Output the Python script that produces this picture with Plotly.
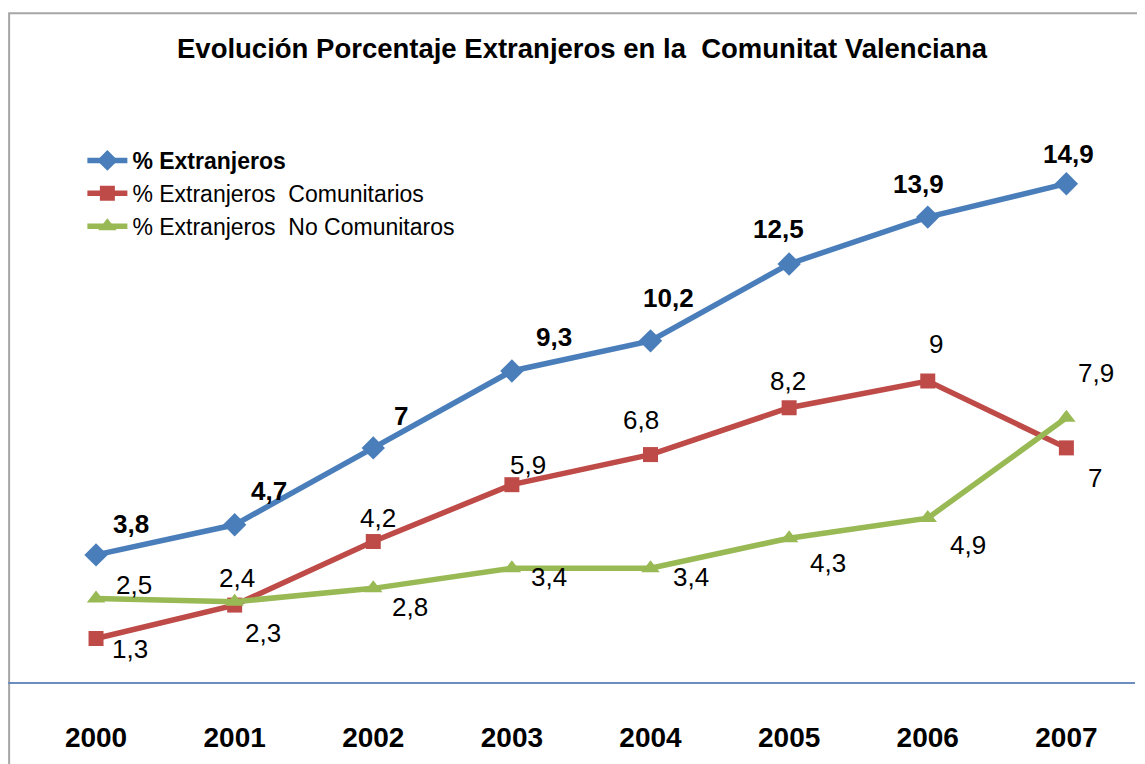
import plotly.graph_objects as go

years = ["2000", "2001", "2002", "2003", "2004", "2005", "2006", "2007"]
total = [3.8, 4.7, 7, 9.3, 10.2, 12.5, 13.9, 14.9]
comunitarios = [1.3, 2.3, 4.2, 5.9, 6.8, 8.2, 9, 7]
no_comunitarios = [2.5, 2.4, 2.8, 3.4, 3.4, 4.3, 4.9, 7.9]

title = "Evolución Porcentaje Extranjeros en la  Comunitat Valenciana"
names = ["<b>% Extranjeros</b>", "% Extranjeros  Comunitarios", "% Extranjeros  No Comunitaros"]

# label offsets in pixels (dx, dy) - styling only
off_total = [(35, 31), (34, 34), (28, 32), (42, 34), (18, 43), (-11, 35), (-9, 33), (2, 30)]
off_com = [(34, -10), (28, -28), (5, 24), (16, 20), (-10, 35), (-1, 27), (8, 37), (29, -30)]
off_nocom = [(38, 13), (2, 24), (37, -19), (37, -9), (40, -9), (39, -25), (40, -27), (30, 45)]


def fmt(v):
    return ("%g" % v).replace(".", ",")


FONT = "Liberation Sans"
BLUE = "#4A7EBB"
RED = "#BE4B48"
GREEN = "#98B954"

idx = list(range(len(years)))

fig = go.Figure()
series = [
    (total, names[0], BLUE, "diamond", 18),
    (comunitarios, names[1], RED, "square", 15),
    (no_comunitarios, names[2], GREEN, "triangle-up", 16),
]
for vals, name, col, sym, sz in series:
    fig.add_trace(go.Scatter(
        x=idx, y=vals, name=name, mode="lines+markers",
        line=dict(color=col, width=5.5),
        marker=dict(symbol=sym, size=sz, color=col),
    ))

annotations = []
for vals, offs, bold in [(total, off_total, True), (comunitarios, off_com, False), (no_comunitarios, off_nocom, False)]:
    for i, v, (dx, dy) in zip(idx, vals, offs):
        t = fmt(v)
        annotations.append(dict(
            x=i, y=v, xref="x", yref="y", text=("<b>%s</b>" % t) if bold else t,
            showarrow=False, xshift=dx, yshift=dy,
            font=dict(family=FONT, size=26, color="black"),
        ))

annotations.append(dict(
    x=0.51, y=1.0, xref="paper", yref="paper", yanchor="middle", yshift=32,
    xanchor="center", text="<b>%s</b>" % title, showarrow=False,
    font=dict(family=FONT, size=27.5, color="black"),
))

fig.update_layout(
    width=1145, height=764,
    margin=dict(l=0, r=18, t=72, b=90),
    paper_bgcolor="white", plot_bgcolor="white",
    showlegend=True,
    legend=dict(
        x=0.066, y=0.902, xanchor="left", yanchor="top",
        font=dict(family=FONT, size=23, color="black"),
        bgcolor="rgba(0,0,0,0)", tracegroupgap=0, itemwidth=40,
    ),
    annotations=annotations,
    shapes=[dict(type="rect", xref="paper", yref="paper",
                 x0=0.001, x1=1.05, y0=-0.2, y1=1.111,
                 line=dict(color="#A6A6A6", width=2), fillcolor="rgba(0,0,0,0)", layer="below")],
    xaxis=dict(
        range=[-0.635, 7.495],
        tickvals=idx, ticktext=["<b>%s</b>" % y for y in years],
        showline=True, linecolor="#6C8EBF", linewidth=1.5,
        showgrid=False, zeroline=False,
        ticks="outside", ticklen=30, tickcolor="rgba(0,0,0,0)",
        tickfont=dict(family=FONT, size=28, color="black"),
    ),
    yaxis=dict(
        range=[0, 18], visible=False, showgrid=False, zeroline=False,
    ),
    font=dict(family=FONT),
)

fig.write_html("out.html")
